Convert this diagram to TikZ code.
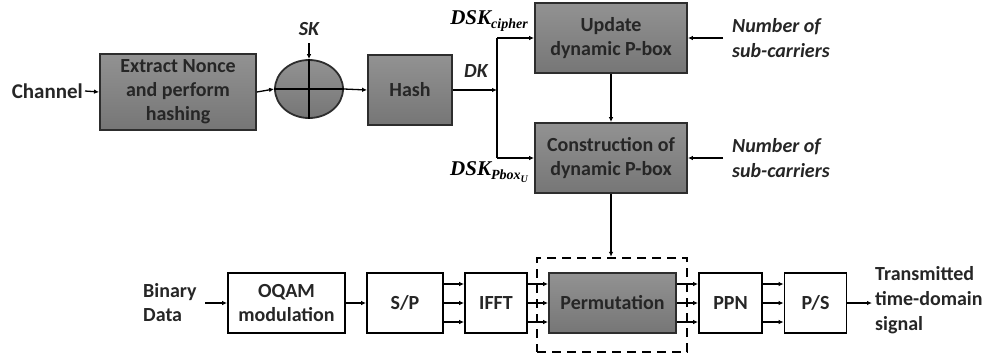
\documentclass[tikz,border=0pt]{standalone}
\usepackage{fontspec}
\setmainfont{Carlito}
\newfontfamily\dskfont{Liberation Serif}
\usetikzlibrary{arrows.meta,shapes.geometric,calc}
\definecolor{grayhi}{RGB}{146,146,146}
\definecolor{graylo}{RGB}{118,118,118}
\definecolor{edgegray}{RGB}{45,45,45}
\newcommand{\dsk}[1]{{\dskfont\bfseries\itshape DSK\raisebox{-4pt}{\fontsize{14}{14}\selectfont #1}}}
\begin{document}
\begin{tikzpicture}[x=1pt,y=-1pt,
  txt/.style={font=\fontsize{20}{24}\selectfont\bfseries, align=center, inner sep=0pt, text=black!85},
  graybox/.style={txt, draw=edgegray, line width=1.8pt, top color=grayhi, bottom color=graylo, minimum width=#1},
  whitebox/.style={txt, draw=black, line width=1.8pt, fill=white, minimum height=60pt, minimum width=#1},
  arr/.style={line width=1.3pt, -{Latex[length=5pt,width=4.5pt]}},
  lbl/.style={font=\fontsize{20}{24}\selectfont\bfseries, inner sep=0pt, text=black!85},
  ilbl/.style={font=\fontsize{20}{25}\selectfont\bfseries\itshape, align=left, inner sep=0pt, anchor=west, text=black!85},
]
\useasboundingbox (0,0) rectangle (990,360);

% key derivation chain
\node[graybox=156pt, minimum height=76pt] (ext) at (178,92) {Extract Nonce\\and perform\\hashing};
\node[ellipse, draw=edgegray, line width=1.8pt, top color=grayhi, bottom color=graylo, minimum width=68pt, minimum height=58pt, inner sep=0pt] (xor) at (309,89) {};
\node[graybox=84pt, minimum height=70pt] (hash) at (410,90) {Hash};
\node[graybox=152pt, minimum height=70pt] (upd) at (611,38) {Update\\dynamic P-box};
\node[graybox=152pt, minimum height=70pt] (con) at (611,158) {Construction of\\dynamic P-box};

\node[lbl, anchor=east, font=\fontsize{21}{24}\selectfont\bfseries] (chan) at (83,91) {Channel};
\node[lbl, font=\fontsize{20}{24}\selectfont\bfseries\itshape] (sk) at (309,29) {SK};
\coordinate (skin) at (309,43);
\node[lbl, font=\fontsize{20}{24}\selectfont\bfseries\itshape] (dk) at (476,71) {DK};
\coordinate (split) at (497,90);
\coordinate (sup) at (497,38);
\coordinate (sdn) at (497,158);
\node[inner sep=0pt, font=\fontsize{21}{24}\selectfont] (dsk1) at (489,21) {\dsk{cipher}};
\node[inner sep=0pt, font=\fontsize{21}{24}\selectfont] (dsk2) at (489,172) {\dsk{Pbox\raisebox{-3pt}{\fontsize{10}{10}\selectfont U}}};

\node[ilbl] (num1) at (732,38) {Number of\\sub-carriers};
\node[ilbl] (num2) at (732,158) {Number of\\sub-carriers};

\draw[arr] ($(chan.east)+(2pt,0)$) -- (ext.west);
\draw[arr] (ext.east) -- (xor.west);
\draw[line width=1.3pt] (xor.west) -- (xor.east);
\draw[line width=1.3pt] (xor.north) -- (xor.south);
\draw[arr] (skin) -- (xor.north);
\draw[arr] (xor.east) -- (hash.west);
\draw[arr] (hash.east) -- (split);
\draw[line width=1.3pt] (sup) -- (sdn);
\draw[arr] (sup) -- (upd.west);
\draw[arr] (sdn) -- (con.west);
\draw[arr] (upd.south) -- (con.north);
\draw[arr] ($(num1.west)+(-9pt,0)$) -- (upd.east);
\draw[arr] ($(num2.west)+(-9pt,0)$) -- (con.east);

% transmitter chain
\node[whitebox=117pt] (oqam) at (286.5,303) {OQAM\\modulation};
\node[whitebox=76pt] (sp) at (405,303) {S/P};
\node[whitebox=62pt] (ifft) at (496,303) {IFFT};
\node[graybox=127pt, minimum height=60pt] (perm) at (612.5,303) {Permutation};
\node[whitebox=63pt] (ppn) at (730.5,303) {PPN};
\node[whitebox=62pt] (ps) at (815.5,303) {P/S};
\node[draw=black, line width=2.4pt, dash pattern=on 9pt off 6pt, minimum width=150pt, minimum height=94pt, inner sep=0pt] (dbox) at (612,305) {};

\node[lbl, align=left, anchor=west] (bin) at (143,303) {Binary\\Data};
\node[lbl, align=left, anchor=west, font=\fontsize{20}{25}\selectfont\bfseries] (out) at (875,300) {Transmitted\\time-domain\\signal};
\coordinate (binout) at (205,303);
\coordinate (outin) at (872,303);

\draw[arr] (binout) -- (oqam.west);
\draw[arr] (oqam.east) -- (sp.west);
\foreach \dy in {-19,0,19}{
  \draw[arr] ([yshift=\dy pt]sp.east) -- ([yshift=\dy pt]ifft.west);
  \draw[arr] ([yshift=\dy pt]ifft.east) -- ([yshift=\dy pt]perm.west);
  \draw[arr] ([yshift=\dy pt]perm.east) -- ([yshift=\dy pt]ppn.west);
  \draw[arr] ([yshift=\dy pt]ppn.east) -- ([yshift=\dy pt]ps.west);
}
\draw[arr] (ps.east) -- (outin);
\draw[arr] (con.south) -- (con.south |- dbox.north);
\end{tikzpicture}
\end{document}
